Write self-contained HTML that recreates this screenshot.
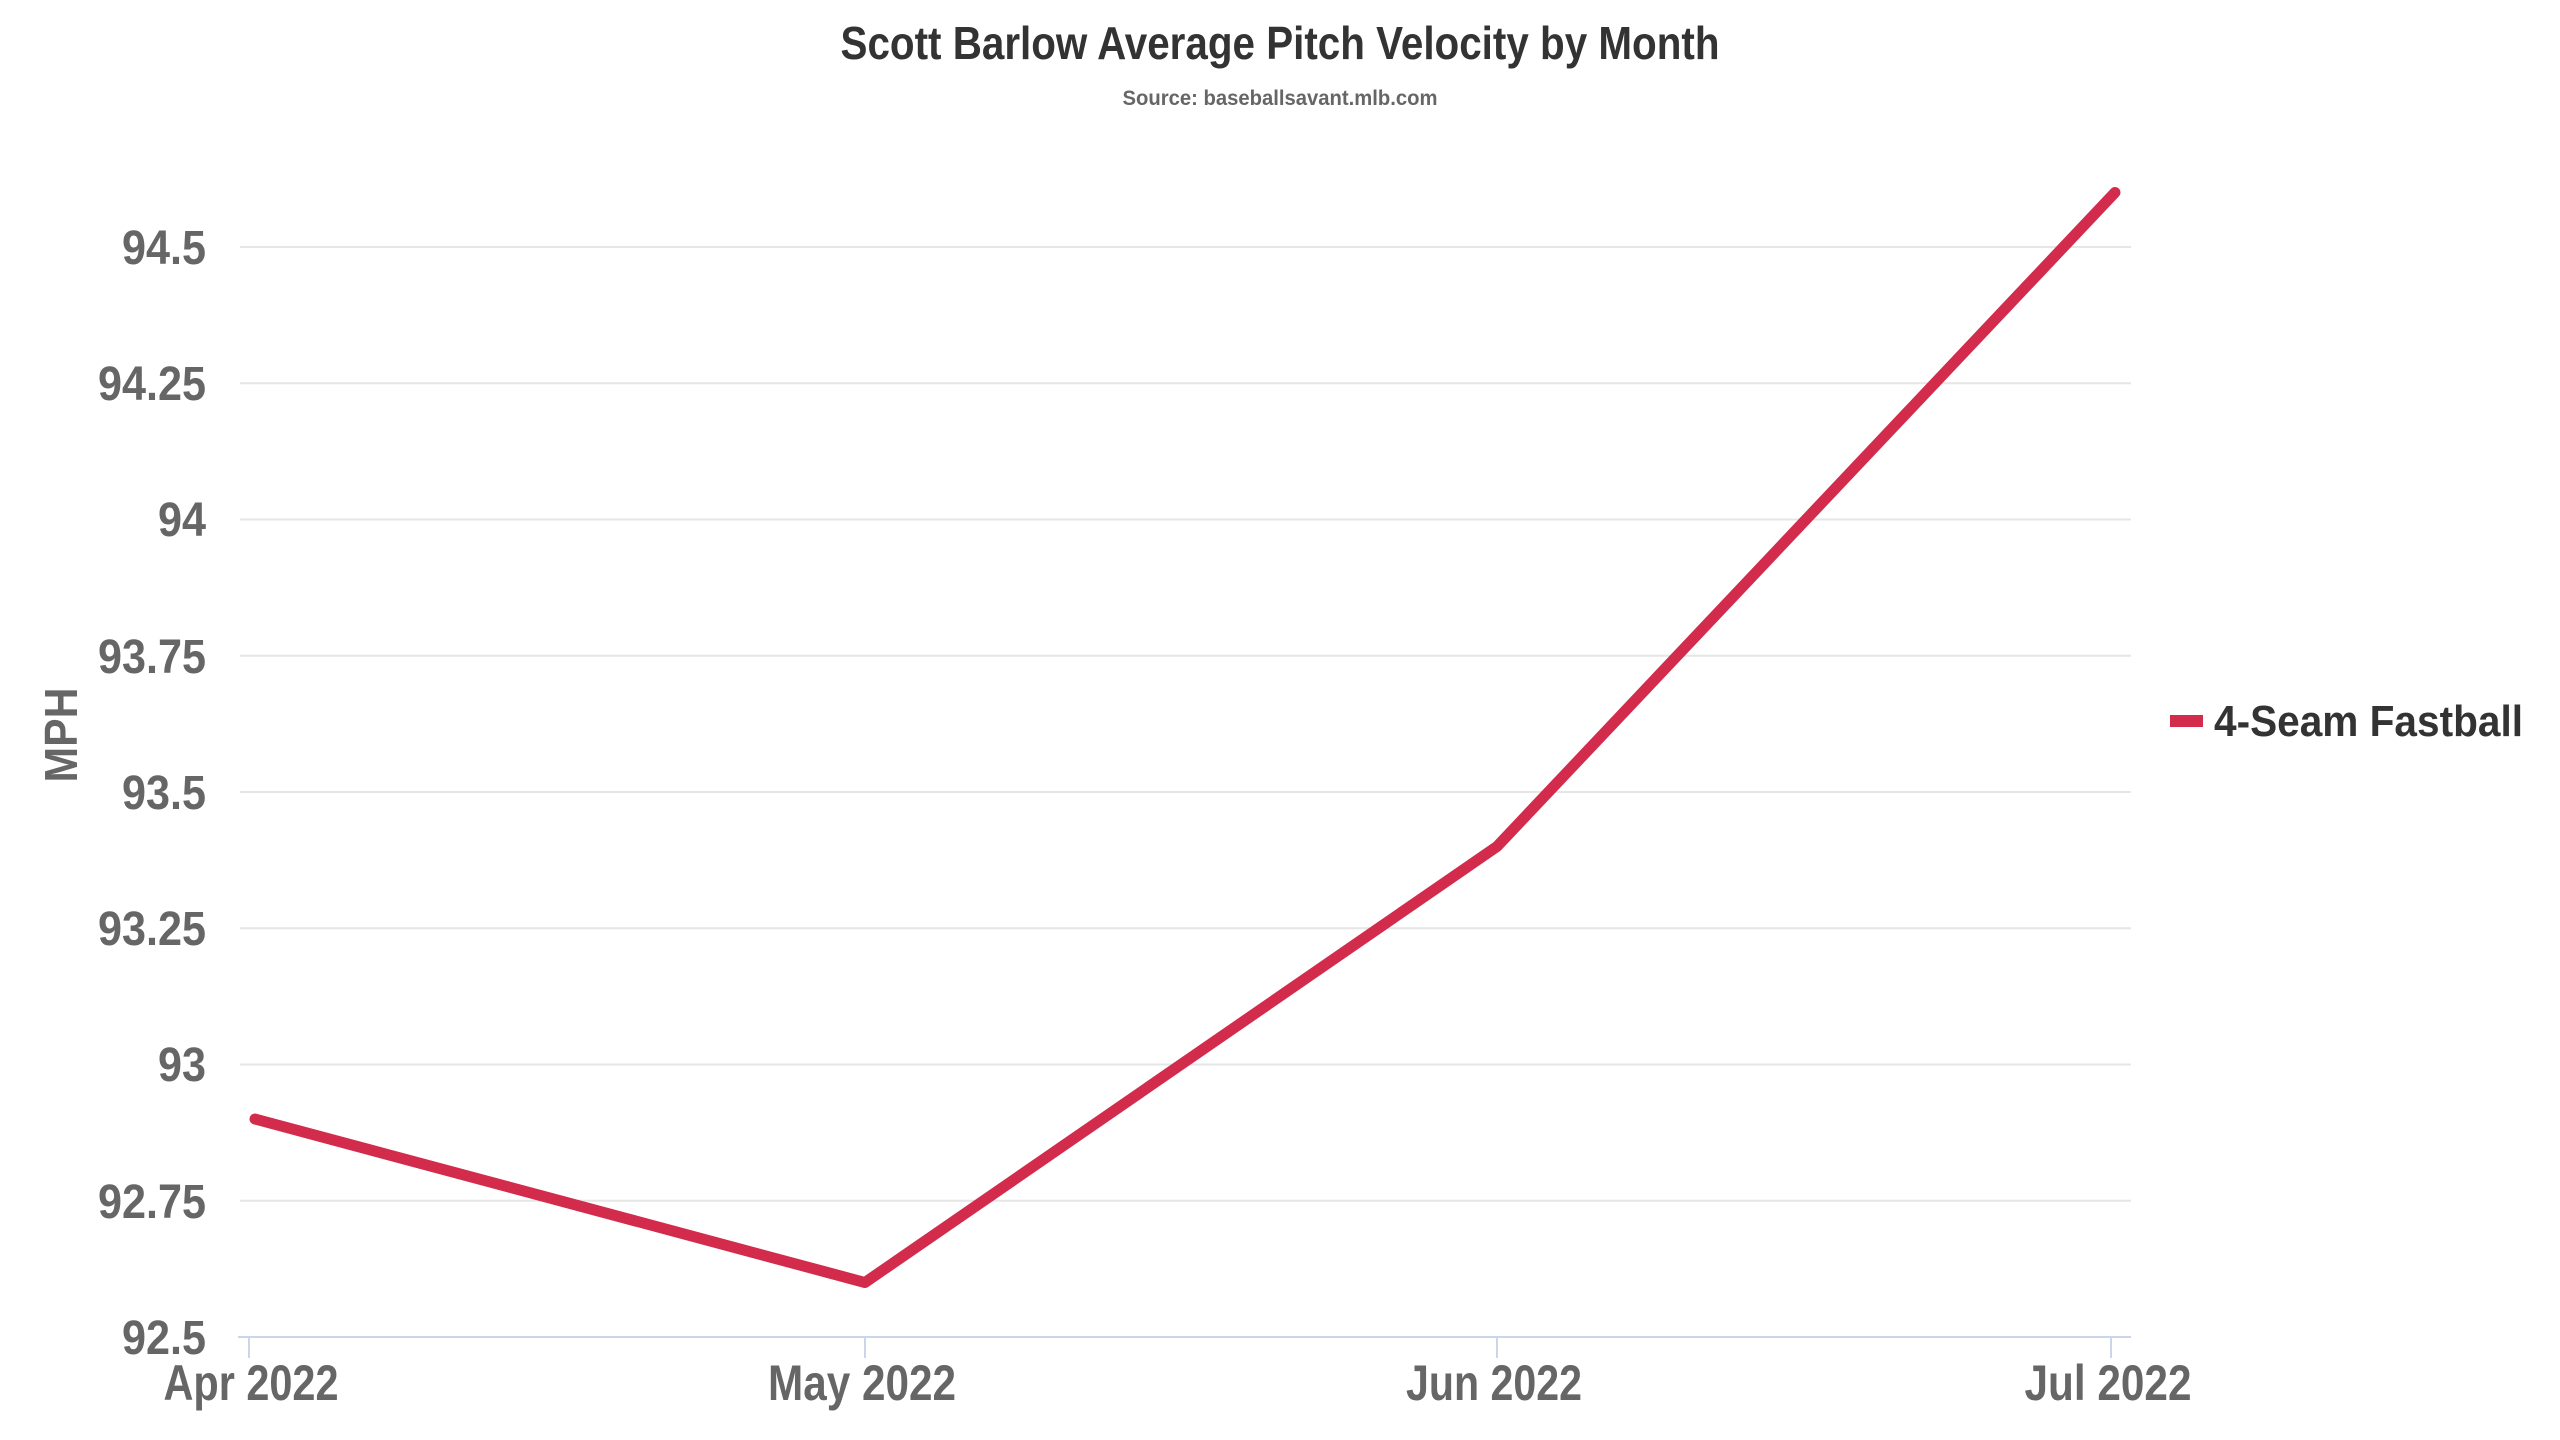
<!DOCTYPE html>
<html><head><meta charset="utf-8"><style>html,body{margin:0;padding:0;background:#fff}svg{display:block}text{font-family:"Liberation Sans Narrow","Liberation Sans",sans-serif;font-weight:bold}</style></head>
<body>
<svg width="2560" height="1440" viewBox="0 0 2560 1440" xmlns="http://www.w3.org/2000/svg">
<rect width="2560" height="1440" fill="#fff"/>
<text x="1280" y="59" text-anchor="middle" font-size="46" fill="#333" textLength="879" lengthAdjust="spacingAndGlyphs">Scott Barlow Average Pitch Velocity by Month</text>
<text x="1280" y="105" text-anchor="middle" font-size="21" fill="#666" textLength="315" lengthAdjust="spacingAndGlyphs">Source: baseballsavant.mlb.com</text>
<g stroke="#e6e6e6" stroke-width="2">
<line x1="240" x2="2131" y1="247" y2="247"/><line x1="240" x2="2131" y1="383.25" y2="383.25"/>
<line x1="240" x2="2131" y1="519.5" y2="519.5"/><line x1="240" x2="2131" y1="655.75" y2="655.75"/>
<line x1="240" x2="2131" y1="792" y2="792"/><line x1="240" x2="2131" y1="928.25" y2="928.25"/>
<line x1="240" x2="2131" y1="1064.5" y2="1064.5"/><line x1="240" x2="2131" y1="1200.75" y2="1200.75"/>
</g>
<g stroke="#ccd6eb" stroke-width="2">
<line x1="238" x2="2131" y1="1337" y2="1337"/>
<line x1="249" x2="249" y1="1337" y2="1358"/><line x1="865" x2="865" y1="1337" y2="1358"/>
<line x1="1497" x2="1497" y1="1337" y2="1358"/><line x1="2111" x2="2111" y1="1337" y2="1358"/>
</g>
<g font-size="48" fill="#666" text-anchor="end" lengthAdjust="spacingAndGlyphs">
<text x="206" y="264" textLength="84" lengthAdjust="spacingAndGlyphs">94.5</text>
<text x="206" y="400" textLength="108" lengthAdjust="spacingAndGlyphs">94.25</text>
<text x="206" y="536" textLength="48" lengthAdjust="spacingAndGlyphs">94</text>
<text x="206" y="673" textLength="108" lengthAdjust="spacingAndGlyphs">93.75</text>
<text x="206" y="809" textLength="84" lengthAdjust="spacingAndGlyphs">93.5</text>
<text x="206" y="945" textLength="108" lengthAdjust="spacingAndGlyphs">93.25</text>
<text x="206" y="1081" textLength="48" lengthAdjust="spacingAndGlyphs">93</text>
<text x="206" y="1218" textLength="108" lengthAdjust="spacingAndGlyphs">92.75</text>
<text x="206" y="1354" textLength="84" lengthAdjust="spacingAndGlyphs">92.5</text>
</g>
<g font-size="50" fill="#666" text-anchor="middle">
<text x="251" y="1400" textLength="175" lengthAdjust="spacingAndGlyphs">Apr 2022</text>
<text x="862" y="1400" textLength="188" lengthAdjust="spacingAndGlyphs">May 2022</text>
<text x="1494" y="1400" textLength="176" lengthAdjust="spacingAndGlyphs">Jun 2022</text>
<text x="2108" y="1400" textLength="167" lengthAdjust="spacingAndGlyphs">Jul 2022</text>
</g>
<text transform="translate(77,735) rotate(-90)" text-anchor="middle" font-size="46" fill="#666" textLength="95" lengthAdjust="spacingAndGlyphs">MPH</text>
<polyline points="255,1119 865,1282.5 1497,846.5 2115,192.5" fill="none" stroke="#d22b4b" stroke-width="11" stroke-linecap="round" stroke-linejoin="round"/>
<rect x="2170" y="715" width="33" height="12" fill="#d22b4b"/>
<text x="2214" y="736" font-size="44" fill="#333" textLength="309" lengthAdjust="spacingAndGlyphs">4-Seam Fastball</text>
</svg>
</body></html>
